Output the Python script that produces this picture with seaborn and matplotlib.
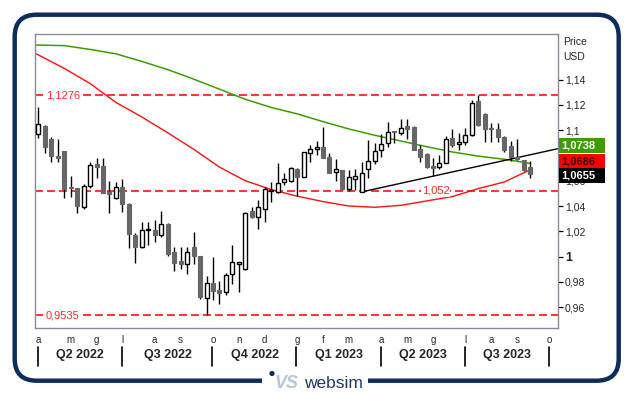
import numpy as np
import pandas as pd
import matplotlib
matplotlib.use("Agg")
import matplotlib.pyplot as plt
import matplotlib.transforms as mtrans
from matplotlib.patches import FancyBboxPatch, Rectangle, Circle
import seaborn as sns

# ---------------- data (weekly EUR/USD candles) ----------------
first_week = "2022-04-01"
opens = [1.0970, 1.1034, 1.0931, 1.0796, 1.0836, 1.0548, 1.0540, 1.0395, 1.0561, 1.0730,
         1.0717, 1.0514, 1.0461, 1.0553, 1.0416, 1.0170, 1.0073, 1.0208, 1.0207, 1.0168,
         1.0257, 1.0036, 0.9964, 0.9938, 1.0075, 1.0004, 0.9669, 0.9788, 0.9735, 0.9716,
         0.9859, 0.9938, 0.9898, 1.0360, 1.0310, 1.0374, 1.0518, 1.0514, 1.0588, 1.0601,
         1.0690, 1.0627, 1.0822, 1.0848, 1.0864, 1.0785, 1.0672, 1.0685, 1.0532, 1.0611,
         1.0513, 1.0690, 1.0759, 1.0843, 1.0896, 1.0990, 1.0980, 1.1033, 1.1029, 1.0849,
         1.0812, 1.0717, 1.0706, 1.0743, 1.0936, 1.0891, 1.0904, 1.0963, 1.1235, 1.1129,
         1.1015, 1.1010, 1.0944, 1.0875, 1.0791, 1.0765, 1.0706]
highs = [1.1187, 1.1041, 1.0944, 1.0928, 1.0836, 1.0638, 1.0545, 1.0572, 1.0751, 1.0778,
         1.0778, 1.0598, 1.0593, 1.0614, 1.0420, 1.0183, 1.0271, 1.0276, 1.0289, 1.0360,
         1.0263, 1.0078, 1.0078, 1.0078, 1.0194, 1.0004, 0.9846, 0.9999, 0.9806, 0.9872,
         1.0091, 0.9960, 1.0355, 1.0395, 1.0448, 1.0553, 1.0593, 1.0738, 1.0659, 1.0712,
         1.0698, 1.0830, 1.0883, 1.0914, 1.1028, 1.0817, 1.0769, 1.0685, 1.0685, 1.0692,
         1.0751, 1.0922, 1.0896, 1.0970, 1.1068, 1.0996, 1.1086, 1.1086, 1.1035, 1.0883,
         1.0817, 1.0778, 1.0804, 1.0955, 1.1007, 1.0976, 1.1015, 1.1240, 1.1276, 1.1139,
         1.1060, 1.1055, 1.0955, 1.0918, 1.0928, 1.0768, 1.0759]
lows = [1.0936, 1.0822, 1.0746, 1.0746, 1.0461, 1.0474, 1.0342, 1.0376, 1.0540, 1.0619,
        1.0500, 1.0347, 1.0453, 1.0355, 1.0065, 0.9946, 1.0070, 1.0091, 1.0112, 1.0152,
        1.0006, 0.9888, 0.9898, 0.9859, 0.9943, 0.9661, 0.9535, 0.9655, 0.9621, 0.9695,
        0.9780, 0.9721, 0.9893, 1.0308, 1.0215, 1.0276, 1.0434, 1.0500, 1.0566, 1.0593,
        1.0479, 1.0627, 1.0751, 1.0804, 1.0782, 1.0658, 1.0600, 1.0526, 1.0521, 1.0526,
        1.0516, 1.0619, 1.0730, 1.0790, 1.0870, 1.0896, 1.0962, 1.0928, 1.0844, 1.0751,
        1.0698, 1.0638, 1.0693, 1.0738, 1.0870, 1.0844, 1.0883, 1.0957, 1.1036, 1.0910,
        1.0910, 1.0910, 1.0831, 1.0759, 1.0764, 1.0681, 1.0619]
closes = [1.1047, 1.0870, 1.0799, 1.0783, 1.0532, 1.0540, 1.0403, 1.0558, 1.0725, 1.0712,
          1.0506, 1.0492, 1.0548, 1.0418, 1.0176, 1.0078, 1.0207, 1.0218, 1.0173, 1.0257,
          1.0020, 0.9951, 0.9943, 1.0036, 1.0007, 0.9682, 0.9793, 0.9729, 0.9708, 0.9853,
          0.9954, 0.9954, 1.0342, 1.0316, 1.0389, 1.0532, 1.0527, 1.0580, 1.0611, 1.0698,
          1.0632, 1.0825, 1.0848, 1.0864, 1.0782, 1.0664, 1.0690, 1.0534, 1.0627, 1.0637,
          1.0658, 1.0756, 1.0835, 1.0891, 1.0988, 1.0988, 1.1015, 1.1007, 1.0844, 1.0791,
          1.0706, 1.0699, 1.0743, 1.0928, 1.0883, 1.0909, 1.0963, 1.1219, 1.1042, 1.1007,
          1.1007, 1.0944, 1.0844, 1.0791, 1.0770, 1.0685, 1.0655]

# moving averages, read at sample weeks
ma_idx = [-0.5, 4, 8, 12, 16, 20, 24, 28, 32, 36, 40, 44, 48, 52, 56, 60, 64, 68, 72, 76]
ma_green = [1.1675, 1.1670, 1.1640, 1.1605, 1.1545, 1.1480, 1.1405, 1.1325, 1.1245, 1.1180,
            1.1130, 1.1068, 1.1010, 1.0960, 1.0915, 1.0870, 1.0828, 1.0795, 1.0770, 1.0738]
ma_red = [1.1610, 1.1490, 1.1370, 1.1220, 1.1105, 1.0980, 1.0850, 1.0708, 1.0600, 1.0530,
          1.0478, 1.0435, 1.0400, 1.0390, 1.0405, 1.0440, 1.0475, 1.0538, 1.0590, 1.0686]

# trend line (two anchor points) and horizontal levels
trend_idx = [50.1, 80.4]
trend_val = [1.0513, 1.0855]
levels = [1.1276, 1.052, 0.9535]
level_labels = ["1,1276", "1,052", "0,9535"]

yticks = [0.96, 0.98, 1.00, 1.02, 1.04, 1.06, 1.08, 1.10, 1.12, 1.14]
# the 1,08 label is hidden behind the last-value boxes in the original
ytick_labels = ["0,96", "0,98", "1", "1,02", "1,04", "1,06", "", "1,1", "1,12", "1,14"]

last_labels = ["1,0738", "1,0686", "1,0655"]

month_initials = {1: 'g', 2: 'f', 3: 'm', 4: 'a', 5: 'm', 6: 'g', 7: 'l',
                  8: 'a', 9: 's', 10: 'o', 11: 'n', 12: 'd'}
axis_weeks = 80

# ---------------- style ----------------
sns.set_theme(style="white")
plt.rcParams['font.family'] = ['Liberation Sans', 'DejaVu Sans']

NAVY = '#0c2c5c'
GREEN = '#3f9c00'
RED = '#ff1010'

W, H = 632, 395
fig = plt.figure(figsize=(W / 100, H / 100), dpi=100)
fig.patch.set_facecolor('white')
L, R, T, B = 35, 558, 34, 328
ax = fig.add_axes([L / W, 1 - B / H, (R - L) / W, (B - T) / H], zorder=1)
ov = fig.add_axes([0, 0, 1, 1], zorder=5)
ov.set_xlim(0, W)
ov.set_ylim(H, 0)
ov.axis('off')

n = len(closes)
idx = np.arange(n)
o = np.array(opens); c = np.array(closes); hi = np.array(highs); lo = np.array(lows)
up = c >= o

ax.set_xlim(-0.51, 80.32)
ax.set_ylim(0.9434, 1.1762)

# levels
for lv in levels:
    ax.axhline(lv, color=RED, lw=1.2, ls=(0, (4.8, 2.4)), zorder=1)

# moving averages
sns.lineplot(x=ma_idx, y=ma_green, ax=ax, color=GREEN, lw=1.1, legend=False,
             estimator=None, sort=False, zorder=2)
sns.lineplot(x=ma_idx, y=ma_red, ax=ax, color=RED, lw=1.0, legend=False,
             estimator=None, sort=False, zorder=2)

# trend line
ax.plot(trend_idx, trend_val, color='black', lw=1.0, zorder=2, clip_on=True)

# candles
ax.vlines(idx, lo, hi, color='black', lw=1.0, zorder=3)
body_lo = np.minimum(o, c)
body_h = np.maximum(np.abs(c - o), 0.0004)
ax.bar(idx[up], body_h[up], bottom=body_lo[up], width=0.62, color='white',
       edgecolor='black', linewidth=1.0, zorder=4)
ax.bar(idx[~up], body_h[~up], bottom=body_lo[~up], width=0.62, color='#666666',
       edgecolor='#666666', linewidth=0.8, zorder=4)

# level labels
lab_pos = [1.2, 59.3, 1.2]
for lv, txt, xp in zip(levels, level_labels, lab_pos):
    ax.text(xp, lv, txt, color='#ff2a2a', fontsize=8, va='center', ha='left', zorder=5,
            bbox=dict(facecolor='white', edgecolor='none', pad=0.5))

# axes styling
for s in ax.spines.values():
    s.set_color('#8a8a9a')
    s.set_linewidth(1.0)
ax.set_xticks([])
ax.yaxis.tick_right()
ax.set_yticks(yticks)
ax.set_yticklabels(ytick_labels)
ax.tick_params(axis='y', direction='out', length=3.5, width=0.9, color='black',
               labelsize=7.5, pad=1.5, right=True, left=False)
for t in ax.get_yticklabels():
    if t.get_text() == "1":
        t.set_fontweight('bold')
        t.set_fontsize(9)
ax.grid(False)

# header
ov.text(563, 42, "Price", fontsize=7.5, va='center', ha='left')
ov.text(563, 57, "USD", fontsize=7.5, va='center', ha='left')

# last value boxes
box_specs = [(138, GREEN, 'white'), (154, '#ff0000', '#3a0000'), (168, 'black', 'white')]
for (ytop, fc, tc), txt in zip(box_specs, last_labels):
    ov.add_patch(Rectangle((559, ytop), 46, 14.5, facecolor=fc, edgecolor='none'))
    ov.text(561, ytop + 7.5, txt, color=tc, fontsize=8, fontweight='bold', va='center', ha='left')

# time axis labels
tr = mtrans.blended_transform_factory(ax.transData, ov.transData)
dates = pd.date_range(first_week, periods=axis_weeks, freq='7D')
month_starts = [i for i in range(axis_weeks) if i == 0 or dates[i].month != dates[i - 1].month]
for i in month_starts:
    ov.text(i, 340, month_initials[dates[i].month], transform=tr, fontsize=7,
            ha='center', va='center')
q_starts = [i for i in month_starts if dates[i].month in (1, 4, 7, 10)]
for i in q_starts:
    ov.plot([i - 0.1, i - 0.1], [347, 366], transform=tr, color='black', lw=1.2)
for a, b in zip(q_starts[:-1], q_starts[1:]):
    d = dates[a]
    q = (d.month - 1) // 3 + 1
    ov.text((a + b) / 2, 355, f"Q{q} {d.year}", transform=tr, fontsize=9,
            fontweight='bold', ha='center', va='center')

# outer rounded frame
ov.add_patch(FancyBboxPatch((14.7, 14.7), 604, 366, boxstyle="round,pad=0,rounding_size=22",
                            facecolor='none', edgecolor=NAVY, linewidth=3.2))
# logo
ov.add_patch(Rectangle((262, 370), 106, 25, facecolor='white', edgecolor='none', zorder=6))
ov.add_patch(Circle((272, 373.5), 2.6, facecolor=NAVY, edgecolor='none', zorder=7))
ov.text(275, 384, "VS", fontsize=13, fontweight='bold', fontstyle='italic', color='#b9c5d6',
        ha='left', va='center', zorder=7)
ov.text(304, 384, "websim", fontsize=12.5, color='#1d3966', ha='left', va='center', zorder=7)

fig.savefig("out.png", dpi=100)
